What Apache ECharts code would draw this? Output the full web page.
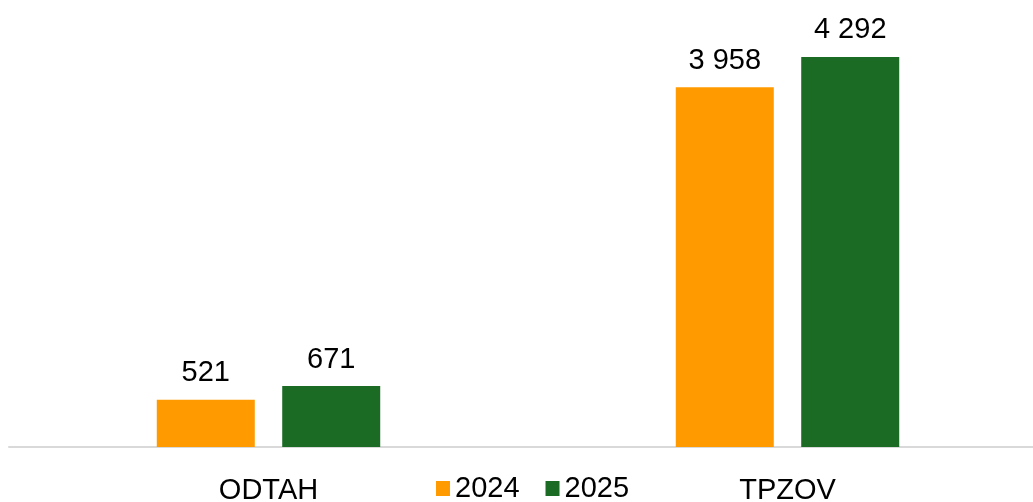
<!DOCTYPE html>
<html>
<head>
<meta charset="utf-8">
<script src="https://cdn.jsdelivr.net/npm/echarts@6/dist/echarts.min.js"></script>
<style>
  html, body { margin: 0; padding: 0; background: #fff; }
  #chart { width: 1033px; height: 502px; }
</style>
</head>
<body>
<div id="chart"></div>
<script>
// data
const categories = ["ODTAH", "TPZOV"];
const years = ["2024", "2025"];
const values2024 = [521, 3958];
const values2025 = [671, 4292];

const chart = echarts.init(document.getElementById("chart"));

// labels use a space as thousands separator
const fmt = (p) => String(p.value).replace(/\B(?=(\d{3})+(?!\d))/g, " ");

const labelStyle = {
  show: true,
  position: "top",
  distance: 12,
  color: "#000",
  fontFamily: "Liberation Sans",
  fontSize: 29,
  formatter: fmt,
};

const option = {
  animation: false,
  grid: { left: 9, width: 1038, top: 38, bottom: 55, outerBoundsMode: "none", containLabel: false },
  legend: {
    bottom: -6,
    left: 431,
    itemWidth: 14,
    itemHeight: 15,
    itemGap: 26,
    icon: "rect",
    textStyle: { fontFamily: "Liberation Sans", fontSize: 29, color: "#000", padding: [0, 0, 0, 0] },
    data: years,
  },
  xAxis: {
    type: "category",
    data: categories,
    axisLine: { lineStyle: { color: "#d9d9d9", width: 2 } },
    axisTick: { show: false },
    axisLabel: { color: "#000", fontFamily: "Liberation Sans", fontSize: 29, margin: 29 },
  },
  yAxis: {
    type: "value",
    min: 0,
    max: 4500,
    show: false,
    splitLine: { show: false },
  },
  series: [
    {
      name: years[0],
      type: "bar",
      data: values2024,
      barWidth: 98,
      barGap: "28%",
      itemStyle: { color: "#FF9A00" },
      label: labelStyle,
    },
    {
      name: years[1],
      type: "bar",
      data: values2025,
      barWidth: 98,
      itemStyle: { color: "#1B6B24" },
      label: labelStyle,
    },
  ],
};

chart.setOption(option);
</script>
</body>
</html>
